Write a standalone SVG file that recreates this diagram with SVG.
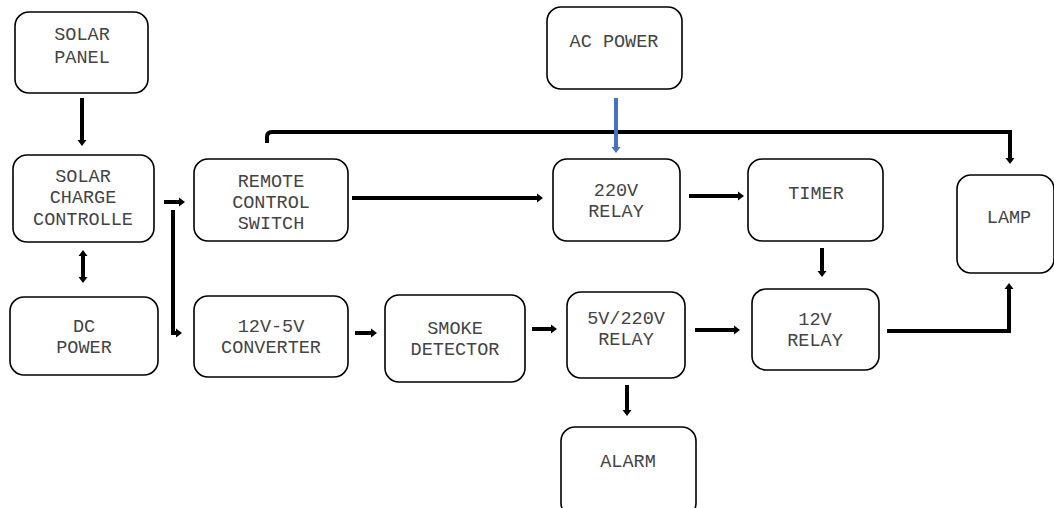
<svg xmlns="http://www.w3.org/2000/svg" width="1054" height="508" viewBox="0 0 1054 508">
<style>
.box{fill:#fff;stroke:#000;stroke-width:1.6}
.t{font-family:"Liberation Mono","Courier New",monospace;font-size:18.5px;fill:#444;text-anchor:middle}
.c{fill:none;stroke:#000;stroke-width:4}
.b{fill:none;stroke:#4472C4;stroke-width:4}
</style>
<defs>
<marker id="ah" markerUnits="userSpaceOnUse" markerWidth="8" markerHeight="10" refX="0" refY="4.5" orient="auto-start-reverse" viewBox="0 0 8 9">
<path d="M0,0 L6,4.5 L0,9 z" fill="#000"/>
</marker>
<marker id="ahb" markerUnits="userSpaceOnUse" markerWidth="8" markerHeight="10" refX="0" refY="4.5" orient="auto" viewBox="0 0 8 9">
<path d="M0,0 L6,4.5 L0,9 z" fill="#4472C4"/>
</marker>
</defs>
<rect width="1054" height="508" fill="#fff"/>
<g id="connectors">
<path class="c" d="M82,98 V140" marker-end="url(#ah)"/>
<path class="c" d="M83,256 V277" marker-start="url(#ah)" marker-end="url(#ah)"/>
<path class="c" d="M164,202 H179" marker-end="url(#ah)"/>
<path class="c" d="M173,210 V333 H176" marker-end="url(#ah)"/>
<path class="c" d="M355,333 H371" marker-end="url(#ah)"/>
<path class="c" d="M532,329 H551" marker-end="url(#ah)"/>
<path class="c" d="M695,330 H734" marker-end="url(#ah)"/>
<path class="c" d="M627,385 V410" marker-end="url(#ah)"/>
<path class="c" d="M352,198 H537" marker-end="url(#ah)"/>
<path class="c" d="M689,196 H738" marker-end="url(#ah)"/>
<path class="c" d="M822,248 V271" marker-end="url(#ah)"/>
<path class="c" d="M887,331 H1009 V289" marker-end="url(#ah)"/>
<path class="c" d="M267,143 V137 Q267,132 272,132 H1010 V158" marker-end="url(#ah)"/>
<path class="b" d="M616,98 V147" marker-end="url(#ahb)"/>
</g>
<g id="solar-panel"><rect class="box" x="15" y="12" width="133" height="81" rx="14"/>
<text class="t" x="82" y="40">SOLAR</text><text class="t" x="82" y="63">PANEL</text></g>
<g id="solar-charge-controller"><rect class="box" x="13" y="155" width="141" height="87" rx="14"/>
<text class="t" x="83" y="182">SOLAR</text><text class="t" x="83" y="203">CHARGE</text><text class="t" x="83" y="225">CONTROLLE</text></g>
<g id="dc-power"><rect class="box" x="10" y="297" width="148" height="78" rx="14"/>
<text class="t" x="84" y="332">DC</text><text class="t" x="84" y="353">POWER</text></g>
<g id="remote-control-switch"><rect class="box" x="194" y="159" width="154" height="82" rx="14"/>
<text class="t" x="271" y="187">REMOTE</text><text class="t" x="271" y="208">CONTROL</text><text class="t" x="271" y="229">SWITCH</text></g>
<g id="converter"><rect class="box" x="194" y="296" width="154" height="81" rx="14"/>
<text class="t" x="271" y="332">12V-5V</text><text class="t" x="271" y="353">CONVERTER</text></g>
<g id="smoke-detector"><rect class="box" x="385" y="295" width="140" height="87" rx="14"/>
<text class="t" x="455" y="334">SMOKE</text><text class="t" x="455" y="355">DETECTOR</text></g>
<g id="relay-5v-220v"><rect class="box" x="567" y="292" width="118" height="86" rx="14"/>
<text class="t" x="626" y="324">5V/220V</text><text class="t" x="626" y="345">RELAY</text></g>
<g id="alarm"><rect class="box" x="561" y="427" width="135" height="90" rx="14"/>
<text class="t" x="628" y="467">ALARM</text></g>
<g id="ac-power"><rect class="box" x="547" y="7" width="135" height="82" rx="14"/>
<text class="t" x="614" y="47">AC POWER</text></g>
<g id="relay-220v"><rect class="box" x="553" y="159" width="127" height="82" rx="14"/>
<text class="t" x="616" y="196">220V</text><text class="t" x="616" y="217">RELAY</text></g>
<g id="timer"><rect class="box" x="748" y="159" width="135" height="82" rx="14"/>
<text class="t" x="816" y="199">TIMER</text></g>
<g id="relay-12v"><rect class="box" x="752" y="289" width="127" height="81" rx="14"/>
<text class="t" x="815" y="325">12V</text><text class="t" x="815" y="346">RELAY</text></g>
<g id="lamp"><rect class="box" x="957" y="175" width="97" height="98" rx="14"/>
<text class="t" x="1009" y="223">LAMP</text></g>
</svg>
